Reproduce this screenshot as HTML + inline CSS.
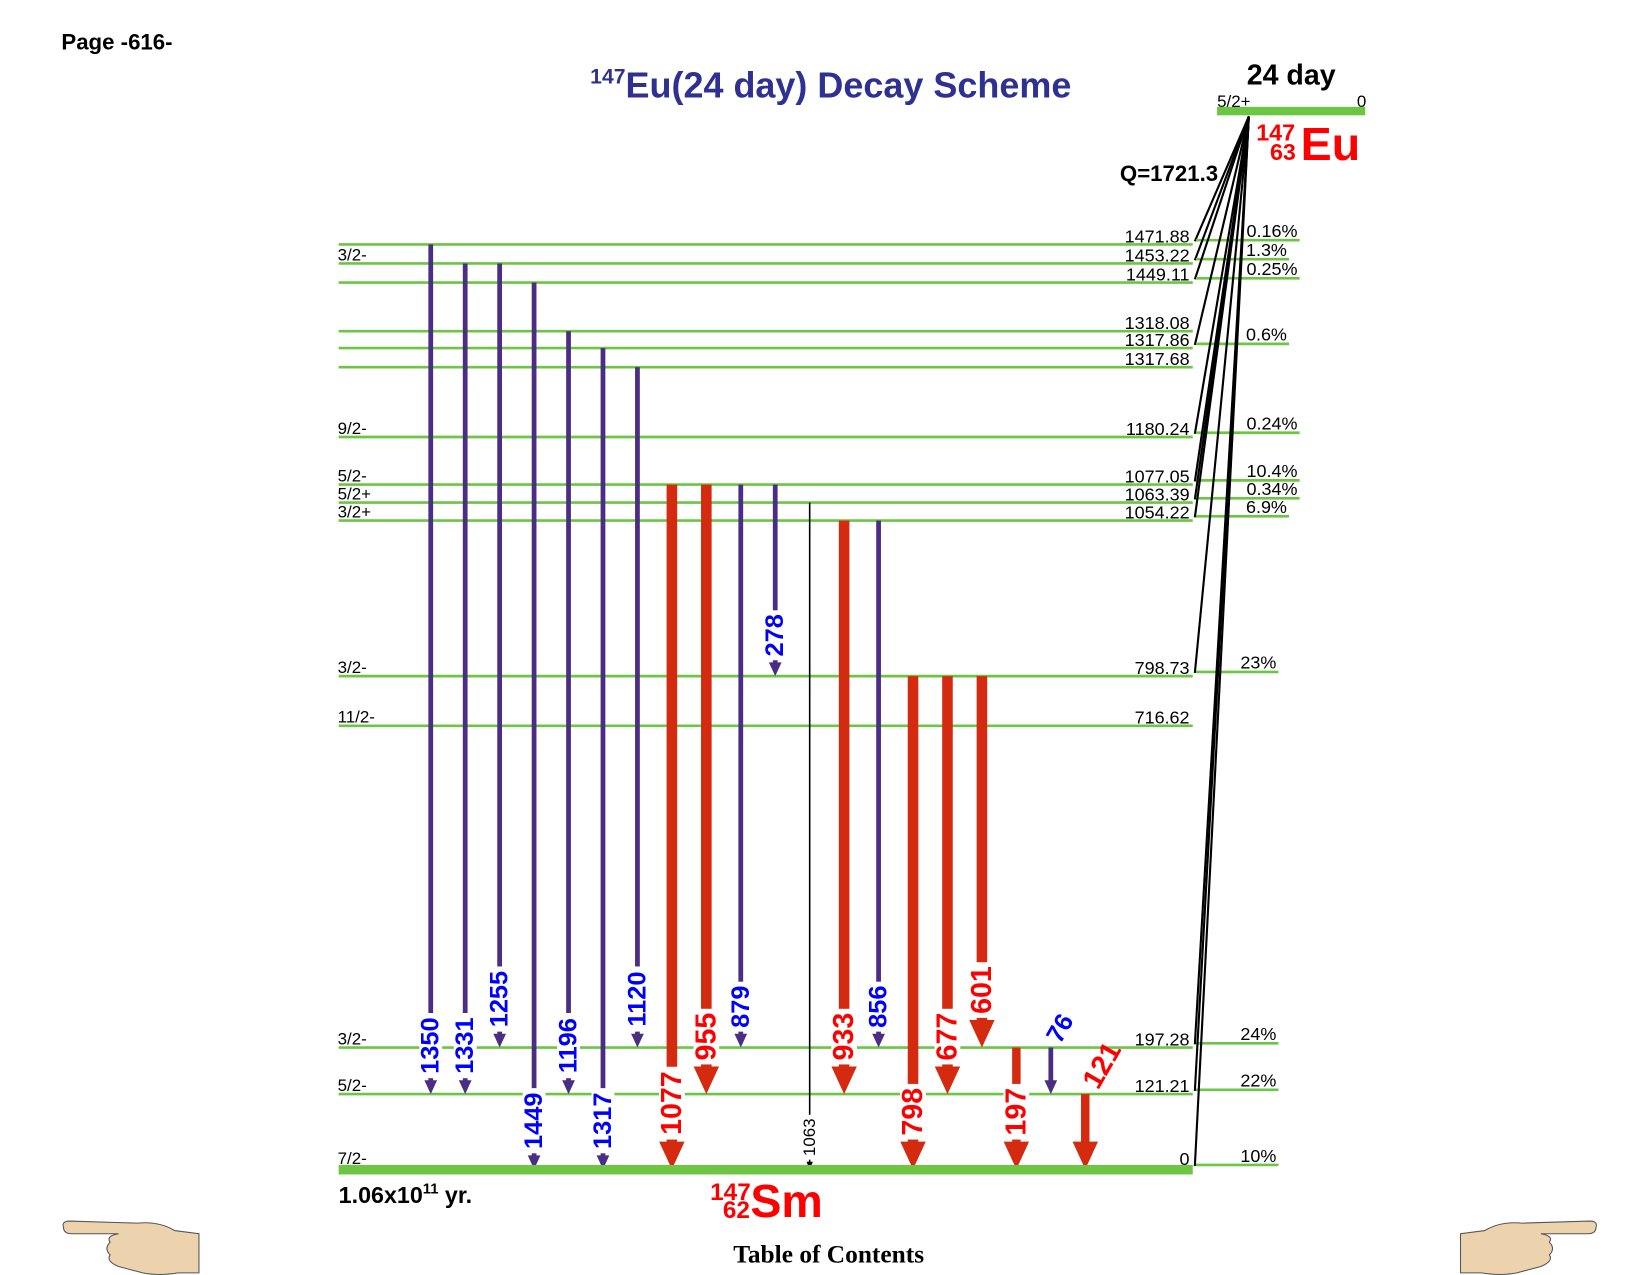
<!DOCTYPE html>
<html><head><meta charset="utf-8"><style>
html,body{margin:0;padding:0;background:#fff}
svg{display:block}
text{font-family:"Liberation Sans",Arial,sans-serif}
</style></head><body>
<svg id="chart" width="1651" height="1275" viewBox="0 0 1560 1205" preserveAspectRatio="none" xmlns="http://www.w3.org/2000/svg">
<text x="58" y="47" font-size="21" font-weight="bold">Page -616-</text>
<text x="785" y="92" font-size="34" font-weight="bold" fill="#2e3192" text-anchor="middle"><tspan font-size="20" dy="-13">147</tspan><tspan dy="13">Eu(24 day) Decay Scheme</tspan></text>
<text x="1220" y="80" font-size="27" font-weight="bold" text-anchor="middle">24 day</text>
<text x="1150" y="101" font-size="16">5/2+</text>
<text x="1291" y="101" font-size="16" text-anchor="end">0</text>
<rect x="1150" y="101" width="140" height="8" fill="#6cc644"/>
<text x="1187" y="133" font-size="22" font-weight="bold" fill="#f00">147</text>
<text x="1200" y="151" font-size="22" font-weight="bold" fill="#f00">63</text>
<text x="1229" y="151" font-size="44" font-weight="bold" fill="#f00">Eu</text>
<text x="1151" y="171" font-size="21" font-weight="bold" text-anchor="end">Q=1721.3</text>
<g id="levels"></g><g id="betas"></g><g id="gammas"></g>
<rect x="320" y="1101" width="807" height="9" fill="#6cc644"/>
<text x="320" y="1137" font-size="22" font-weight="bold">1.06x10<tspan font-size="14" dy="-9">11</tspan><tspan dy="9"> yr.</tspan></text>
<text x="671" y="1134" font-size="23" font-weight="bold" fill="#f00">147</text>
<text x="683" y="1151" font-size="23" font-weight="bold" fill="#f00">62</text>
<text x="709" y="1150" font-size="44" font-weight="bold" fill="#f00">Sm</text>
<text x="783" y="1193" font-size="24" font-weight="bold" style="font-family:'Liberation Serif',serif" text-anchor="middle">Table of Contents</text>
<g fill="#ecd3ad" stroke="#555" stroke-width="1">
<path d="M60,1160 Q58,1154 66,1154 L130,1156 Q150,1154 165,1163 L188,1166 L188,1203 L168,1203 Q150,1206 135,1203 L112,1197 Q100,1192 104,1186 Q98,1180 104,1174 Q100,1168 112,1166 L68,1166 Q60,1166 60,1160Z"/>
</g>
<g fill="#ecd3ad" stroke="#555" stroke-width="1" transform="translate(1568,0) scale(-1,1)">
<path d="M60,1160 Q58,1154 66,1154 L130,1156 Q150,1154 165,1163 L188,1166 L188,1203 L168,1203 Q150,1206 135,1203 L112,1197 Q100,1192 104,1186 Q98,1180 104,1174 Q100,1168 112,1166 L68,1166 Q60,1166 60,1160Z"/>
</g>
</svg>
<script>
const levelEnergies=[1471.88,1453.22,1449.11,1318.08,1317.86,1317.68,1180.24,1077.05,1063.39,1054.22,798.73,716.62,197.28,121.21];
const levelSpins=["","3/2-","","","","","9/2-","5/2-","5/2+","3/2+","3/2-","11/2-","3/2-","5/2-"];
const levelYs=[231,249,267,313,329,347,413,458,475,492,639,686,990,1034];
const betaLevels=[1471.88,1453.22,1449.11,1317.86,1180.24,1077.05,1063.39,1054.22,798.73,197.28,121.21,0];
const betaPercents=["0.16%","1.3%","0.25%","0.6%","0.24%","10.4%","0.34%","6.9%","23%","24%","22%","10%"];
const gammaEnergies=["1350","1331","1255","1449","1196","1317","1120","1077","955","879","278","1063","933","856","798","677","601","197","76","121"];
const gammaFrom=[1471.88,1453.22,1453.22,1449.11,1318.08,1317.86,1317.68,1077.05,1077.05,1077.05,1077.05,1063.39,1054.22,1054.22,798.73,798.73,798.73,197.28,197.28,121.21];
const gammaTo=[121.21,121.21,197.28,0,121.21,0,197.28,0,121.21,197.28,798.73,0,121.21,197.28,0,121.21,197.28,0,121.21,0];
const gammaKind=["w","w","w","w","w","w","w","s","s","w","w","t","s","w","s","s","s","m","w","m"];
const NS="http://www.w3.org/2000/svg";
function yOf(e){if(e===0)return 1105;const i=levelEnergies.indexOf(e);return levelYs[i];}
function mk(tag,attrs,parent){const el=document.createElementNS(NS,tag);for(const k in attrs)el.setAttribute(k,attrs[k]);parent.appendChild(el);return el;}
const L=document.getElementById('levels'),B=document.getElementById('betas'),G=document.getElementById('gammas');
levelEnergies.forEach((e,i)=>{const y=yOf(e);
 const ln=mk('line',{x1:320,x2:1127,y1:y,y2:y,stroke:'#6cc644','stroke-width':2.5},L);
 
 
 const t=mk('text',{x:1124,y:y-2,'font-size':17,'text-anchor':'end'},L);t.textContent=e.toFixed(2);
 
 
 if(levelSpins[i]){const s=mk('text',{x:319,y:y-3,'font-size':16},L);s.textContent=levelSpins[i];
 
 }
});
{const s=mk('text',{x:319,y:1100,'font-size':16},L);s.textContent="7/2-";


const t=mk('text',{x:1124,y:1101,'font-size':17,'text-anchor':'end'},L);t.textContent="0";

}
betaLevels.forEach((e,i)=>{const y=yOf(e);
 const ln=mk('line',{x1:1180,y1:110,x2:1129,y2:y-3,stroke:'#000','stroke-width':2},B);
 
 
 const w=betaPercents[i].length*10+14;
 const g=mk('line',{x1:1130,x2:1164+w,y1:y-4,y2:y-4,stroke:'#6cc644','stroke-width':2.5},B);
 
 
 const t=mk('text',{x:1162+w,y:y-7,'font-size':17,'text-anchor':'end'},B);t.textContent=betaPercents[i];
 
 
});
const xs0=407,dx=32.55;
gammaEnergies.forEach((g,i)=>{const x=xs0+dx*i,y1=yOf(gammaFrom[i]),y2=yOf(gammaTo[i]);const k=gammaKind[i];
 let col,w,hw,hl,fs,tc;
 if(k==='w'){col='#4b2e83';w=4.5;hw=6;hl=13;fs=24;tc='#00f';}
 else if(k==='s'){col='#d42a10';w=10;hw=12;hl=26;fs=27;tc='#f00';}
 else if(k==='m'){col='#d42a10';w=8;hw=12;hl=26;fs=27;tc='#f00';}
 else {col='#000';w=1.5;hw=3;hl=7;fs=16;tc='#000';}
 const grp=mk('g',{},G);
 
 
 mk('rect',{x:x-w/2,y:y1,width:w,height:y2-y1-hl+1,fill:col},grp);
 mk('polygon',{points:`${x-hw},${y2-hl} ${x+hw},${y2-hl} ${x},${y2}`,fill:col},grp);
 const tl=g.length*fs*0.6;
 if(g==='76'||g==='121'){
  const cx=x+(g==='76'?9:16),cy=y2-(g==='76'?62:98);
  const t=mk('text',{x:cx,y:cy,'font-size':fs,'font-weight':'bold',fill:tc,'text-anchor':'middle','dominant-baseline':'central',transform:`rotate(-60 ${cx} ${cy})`},grp);t.textContent=g;
 } else {
  const cy=y2-hl-4-tl/2;
  mk('rect',{x:x-fs*0.45,y:cy-tl/2-2,width:fs*0.9,height:tl+4,fill:'#fff'},grp);
  const t=mk('text',{x:x,y:cy,'font-size':fs,'font-weight':k==='t'?'normal':'bold',fill:tc,'text-anchor':'middle','dominant-baseline':'central',transform:`rotate(-90 ${x} ${cy})`},grp);t.textContent=g;
 }
});
</script>
</body></html>
